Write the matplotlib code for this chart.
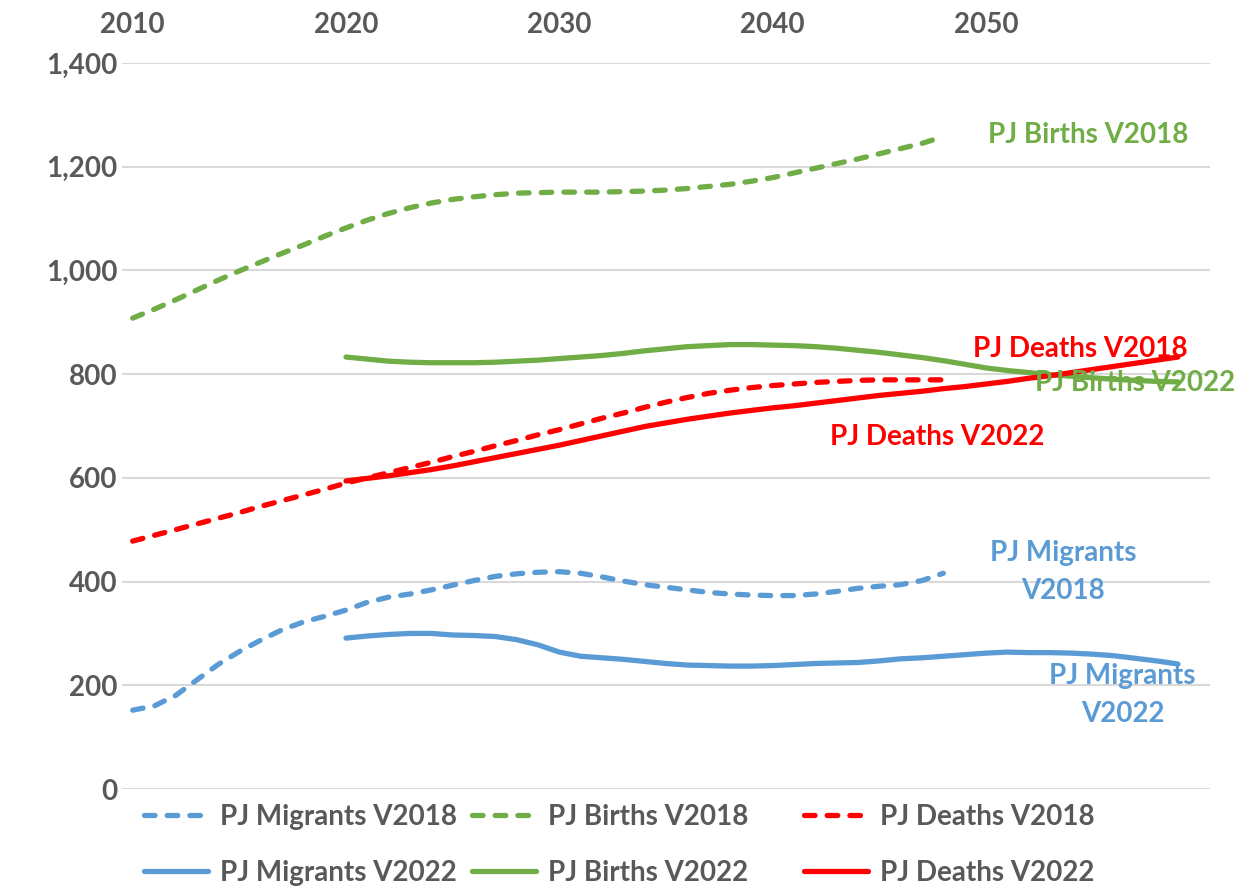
import matplotlib
matplotlib.use("Agg")
import matplotlib.pyplot as plt

# ---------- data ----------
years_v2018 = list(range(2010, 2049))
years_v2022 = list(range(2020, 2060))

migrants_v2018 = [152, 160, 180, 210, 240, 265, 287, 307, 322, 333,
                  345, 360, 370, 376, 384, 393, 402, 410, 415, 418,
                  419, 416, 409, 401, 394, 389, 384, 379, 376, 374,
                  373, 373, 376, 381, 387, 391, 394, 402, 416]
births_v2018 = [908, 925, 943, 962, 981, 999, 1016, 1033, 1049, 1066,
                1082, 1097, 1110, 1121, 1130, 1137, 1142, 1146, 1149, 1150,
                1151, 1151, 1151, 1152, 1153, 1155, 1158, 1162, 1166, 1172,
                1179, 1188, 1197, 1206, 1215, 1225, 1235, 1245, 1258]
deaths_v2018 = [478, 489, 500, 511, 522, 533, 545, 556, 567, 578,
                590, 600, 610, 620, 630, 641, 651, 662, 672, 683,
                693, 704, 715, 725, 736, 746, 755, 763, 769, 774,
                778, 781, 784, 786, 788, 789, 789, 789, 789]

migrants_v2022 = [291, 295, 298, 300, 300, 297, 296, 294, 288, 278,
                  264, 256, 253, 250, 246, 242, 239, 238, 237, 237,
                  238, 240, 242, 243, 244, 247, 251, 253, 256, 259,
                  262, 264, 263, 263, 262, 260, 257, 252, 247, 241]
births_v2022 = [833, 829, 825, 823, 822, 822, 822, 823, 825, 827,
                830, 833, 836, 840, 845, 849, 853, 855, 857, 857,
                856, 855, 853, 850, 846, 842, 837, 832, 826, 819,
                812, 807, 803, 799, 796, 793, 790, 788, 786, 785]
deaths_v2022 = [594, 599, 604, 610, 616, 623, 631, 639, 647, 655,
                663, 672, 681, 690, 699, 706, 713, 719, 725, 730,
                735, 739, 744, 749, 754, 759, 763, 767, 772, 776,
                781, 786, 792, 797, 803, 809, 815, 821, 827, 833]

x_ticks = [2010, 2020, 2030, 2040, 2050]
y_ticks = [0, 200, 400, 600, 800, 1000, 1200, 1400]

BLUE = "#5B9BD5"
GREEN = "#70AD47"
RED = "#FF0000"
GREY = "#595959"

plt.rcParams["font.family"] = ["Lato", "DejaVu Sans"]
plt.rcParams["font.weight"] = "bold"

fig = plt.figure(figsize=(12.6, 8.89), dpi=100)
ax = fig.add_axes([122 / 1260, 1 - 789 / 889, (1210 - 122) / 1260, (789 - 63) / 889])

LW = 3.8
DASH = (2.0, 2.3)

def draw(x, y, color, dashed, label):
    if dashed:
        line, = ax.plot(x, y, color=color, lw=LW, linestyle=(0, DASH),
                        dash_capstyle="round", label=label)
    else:
        line, = ax.plot(x, y, color=color, lw=LW, solid_capstyle="round",
                        label=label)
    return line

m18 = draw(years_v2018, migrants_v2018, BLUE, True, "PJ Migrants V2018")
b18 = draw(years_v2018, births_v2018, GREEN, True, "PJ Births V2018")
d18 = draw(years_v2018, deaths_v2018, RED, True, "PJ Deaths V2018")
m22 = draw(years_v2022, migrants_v2022, BLUE, False, "PJ Migrants V2022")
b22 = draw(years_v2022, births_v2022, GREEN, False, "PJ Births V2022")
d22 = draw(years_v2022, deaths_v2022, RED, False, "PJ Deaths V2022")

ax.set_xlim(2009.5, 2060.5)
ax.set_ylim(0, 1400)
ax.set_xticks(x_ticks)
ax.set_yticks(y_ticks)
ax.set_yticklabels([f"{v:,}" for v in y_ticks])
ax.xaxis.tick_top()
ax.tick_params(axis="both", length=0, labelsize=20, labelcolor=GREY)
ax.tick_params(axis="x", pad=18)
ax.tick_params(axis="y", pad=3)
for lab in ax.get_xticklabels() + ax.get_yticklabels():
    lab.set_fontweight("bold")
ax.grid(axis="y", color="#D9D9D9", lw=1.5)
ax.set_axisbelow(True)
for s in ax.spines.values():
    s.set_visible(False)

# in-chart labels
lab_kw = dict(fontsize=20, fontweight="bold", ha="center", va="center",
              linespacing=1.55)
ax.text(2054.8, 1261, "PJ Births V2018", color=GREEN, **lab_kw)
ax.text(2054.4, 848, "PJ Deaths V2018", color=RED, **lab_kw)
ax.text(2057.0, 783, "PJ Births V2022", color=GREEN, **lab_kw)
ax.text(2047.7, 679, "PJ Deaths V2022", color=RED, **lab_kw)
ax.text(2053.6, 418, "PJ Migrants\nV2018", color=BLUE, **lab_kw)
ax.text(2056.4, 181, "PJ Migrants\nV2022", color=BLUE, **lab_kw)

# legend: three columns, placed like the original
leg_kw = dict(loc="center left", frameon=False, fontsize=20,
              handlelength=2.3, handletextpad=0.45, labelspacing=1.08,
              labelcolor=GREY, borderpad=0, borderaxespad=0)
col_x = [144 / 1260, 472 / 1260, 804 / 1260]
for cx, pair in zip(col_x, [(m18, m22), (b18, b22), (d18, d22)]):
    fig.legend(list(pair), [p.get_label() for p in pair],
               bbox_to_anchor=(cx, 1 - 845 / 889), **leg_kw)

fig.savefig("out.png", dpi=100)
